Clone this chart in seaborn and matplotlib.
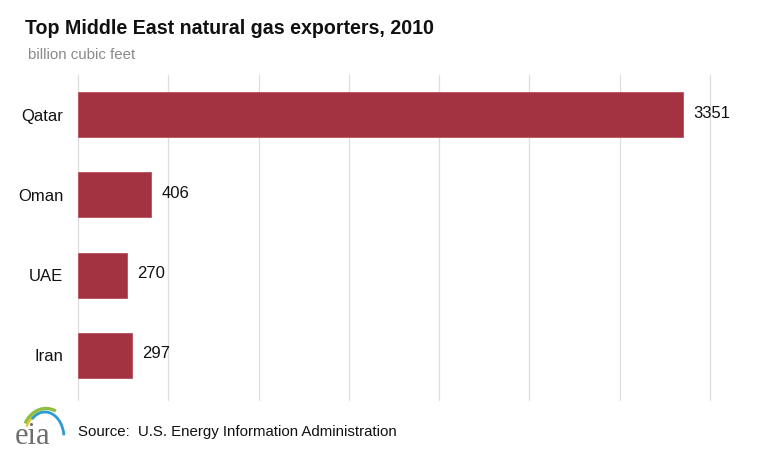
import matplotlib
matplotlib.use("Agg")
import matplotlib.pyplot as plt
import seaborn as sns
import pandas as pd
from matplotlib.patches import Arc

countries = ["Qatar", "Oman", "UAE", "Iran"]
values = [3351, 406, 270, 297]
grid_ticks = [0, 500, 1000, 1500, 2000, 2500, 3000, 3500]

title = "Top Middle East natural gas exporters, 2010"
subtitle = "billion cubic feet"
source = "Source:  U.S. Energy Information Administration"

sns.set_theme(style="white")
plt.rcParams['font.family'] = ['Liberation Sans', 'DejaVu Sans']

df = pd.DataFrame({"country": countries, "value": values})

W, H = 770, 451
fig = plt.figure(figsize=(7.7, 4.51), dpi=100)
ax = fig.add_axes([78 / W, 1 - 395.5 / H, (710 - 78) / W, (395.5 - 74.5) / H])

sns.barplot(data=df, x="value", y="country", order=countries, color="#A33340",
            saturation=1, width=0.56, ax=ax, edgecolor="#B8505C", linewidth=0.6)

ax.set_xlim(0, 3500)
ax.set_ylim(3.5, -0.5)
ax.set_xticks(grid_ticks)
ax.set_xticklabels([])
ax.tick_params(axis="x", length=0)
ax.tick_params(axis="y", length=0, pad=10.5, labelsize=12, labelcolor="#111111")
ax.set_xlabel("")
ax.set_ylabel("")
for s in ax.spines.values():
    s.set_visible(False)
ax.set_axisbelow(True)
for t in grid_ticks:
    ax.axvline(t, ymin=-0.015, ymax=1, color="#DEDEDE", linewidth=0.9, zorder=0, clip_on=False)

for i, v in enumerate(values):
    ax.annotate(str(v), xy=(v, i), xytext=(7.5, 1), textcoords="offset points",
                ha="left", va="center", fontsize=12, color="#111111")

fig.text(25 / W, 1 - 28 / H, title, fontsize=14.1, fontweight="bold",
         ha="left", va="center", color="#111111")
fig.text(28 / W, 1 - 55 / H, subtitle, fontsize=10.8, ha="left", va="center",
         color="#8A8A8A")
fig.text(78 / W, 1 - 432 / H, source, fontsize=10.8, ha="left", va="center",
         color="#111111")

# eia logo (pixel coordinates, y measured up from the bottom edge)
lax = fig.add_axes([10 / W, 0, 65 / W, 52 / H])
lax.set_xlim(10, 75)
lax.set_ylim(0, 52)
lax.axis("off")
lax.add_patch(Arc((46, 13), 48, 59, theta1=70, theta2=145, color="#8DBE3F", lw=2.4))
lax.add_patch(Arc((46, 13), 43, 53, theta1=95, theta2=150, color="#E6C42A", lw=1.5))
lax.add_patch(Arc((45, 13), 38, 52, theta1=8, theta2=125, color="#2E9BD6", lw=2.0))
fig.text(15 / W, 1 - 444 / H, "eia", fontsize=22, family="Liberation Serif",
         ha="left", va="baseline", color="#6E6E6E")

fig.savefig("out.png", dpi=100, facecolor="white")
